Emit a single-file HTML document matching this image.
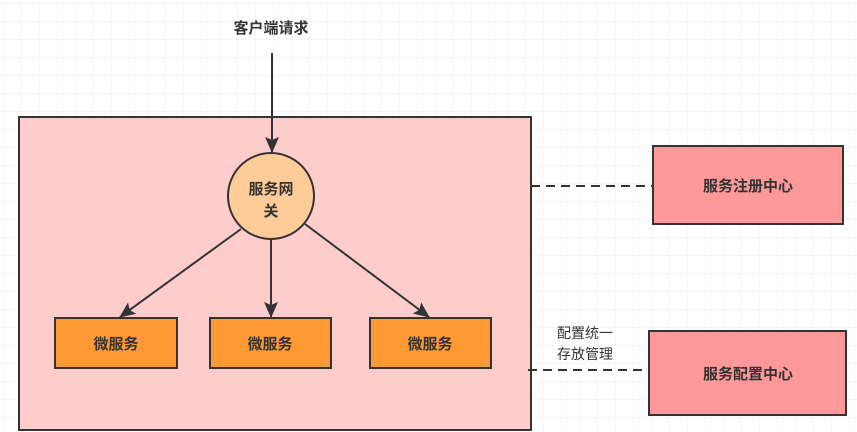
<!DOCTYPE html>
<html><head><meta charset="utf-8"><style>
html,body{margin:0;padding:0;width:857px;height:432px;overflow:hidden;background:#fff}
text{font-family:"Liberation Sans","Noto Sans CJK SC",sans-serif;fill:#333;font-weight:bold}
</style></head><body>
<svg width="857" height="432" viewBox="0 0 857 432" xmlns="http://www.w3.org/2000/svg">
<defs>
<pattern id="g" width="18" height="18" patternUnits="userSpaceOnUse" x="4" y="4">
<path d="M18 0V18H0" fill="none" stroke="#ececec" stroke-width="1"/>
</pattern>
<marker id="a" markerWidth="16" markerHeight="14" refX="15" refY="7" orient="auto" markerUnits="userSpaceOnUse">
<path d="M0,0 L16,7 L0,14 L3,7 Z" fill="#333"/>
</marker>
</defs>
<rect width="857" height="432" fill="url(#g)"/>
<rect x="19" y="117" width="512" height="313" fill="#ffcccc" stroke="#333" stroke-width="2"/>
<text x="271" y="33" font-size="15" text-anchor="middle">客户端请求</text>
<line x1="272" y1="53" x2="272" y2="152" stroke="#333" stroke-width="2" marker-end="url(#a)"/>
<line x1="241" y1="229" x2="120" y2="317" stroke="#333" stroke-width="2" marker-end="url(#a)"/>
<line x1="271" y1="240" x2="271" y2="317" stroke="#333" stroke-width="2" marker-end="url(#a)"/>
<line x1="305" y1="224" x2="429" y2="317" stroke="#333" stroke-width="2" marker-end="url(#a)"/>
<circle cx="271" cy="196" r="43" fill="#ffcc99" stroke="#333" stroke-width="2"/>
<text x="271" y="194" font-size="15" text-anchor="middle">服务网</text>
<text x="271" y="216" font-size="15" text-anchor="middle">关</text>
<rect x="55" y="318" width="122" height="50" fill="#ff9933" stroke="#333" stroke-width="2"/>
<text x="116" y="349" font-size="15" text-anchor="middle">微服务</text>
<rect x="210" y="318" width="121" height="50" fill="#ff9933" stroke="#333" stroke-width="2"/>
<text x="270" y="349" font-size="15" text-anchor="middle">微服务</text>
<rect x="370" y="318" width="121" height="50" fill="#ff9933" stroke="#333" stroke-width="2"/>
<text x="430" y="349" font-size="15" text-anchor="middle">微服务</text>
<line x1="531" y1="186" x2="653" y2="186" stroke="#333" stroke-width="2" stroke-dasharray="9,6"/>
<line x1="528" y1="370" x2="649" y2="370" stroke="#333" stroke-width="2" stroke-dasharray="9,6"/>
<rect x="653" y="146" width="190" height="78" fill="#ff9999" stroke="#333" stroke-width="2"/>
<text x="748" y="191" font-size="15" text-anchor="middle">服务注册中心</text>
<rect x="649" y="331" width="197" height="84" fill="#ff9999" stroke="#333" stroke-width="2"/>
<text x="748" y="379" font-size="15" text-anchor="middle">服务配置中心</text>
<text x="557" y="338" font-size="14" style="font-weight:normal">配置统一</text>
<text x="557" y="359" font-size="14" style="font-weight:normal">存放管理</text>
</svg>
</body></html>
